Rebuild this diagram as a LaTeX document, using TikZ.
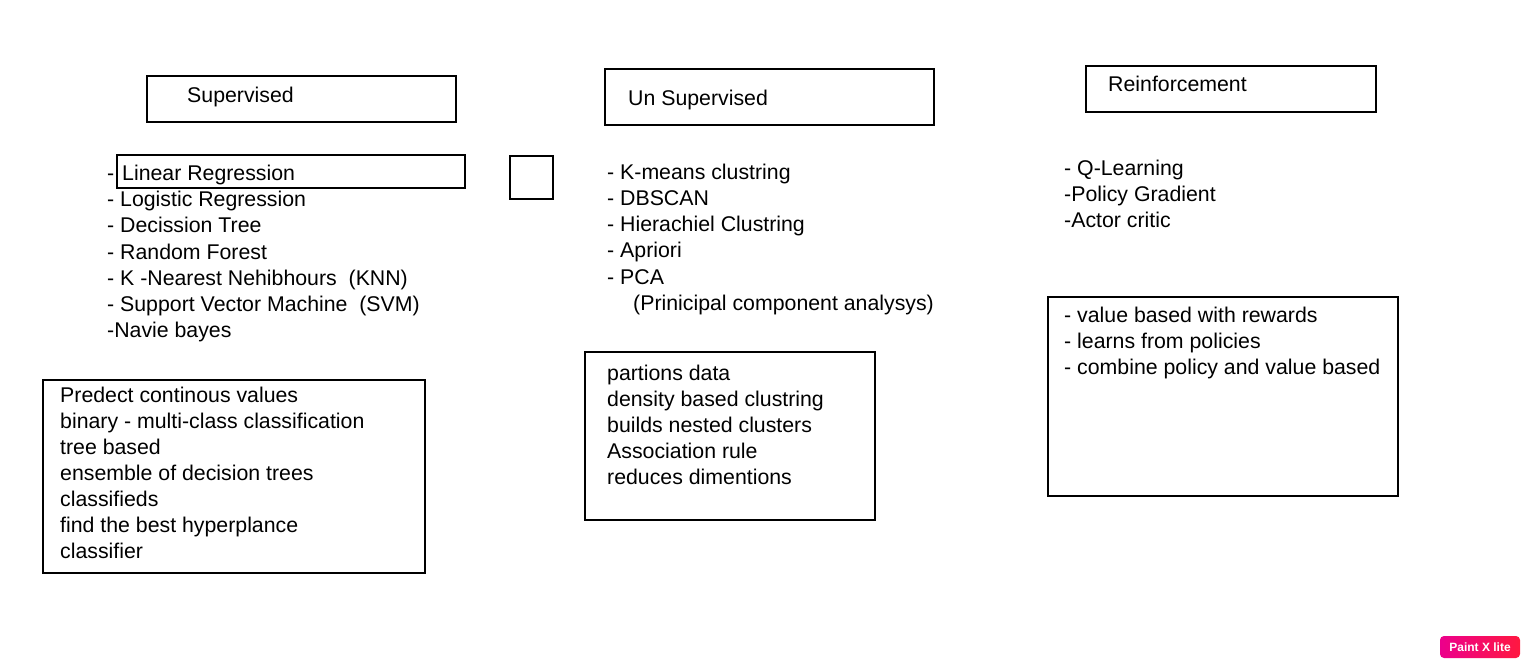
\documentclass[tikz,border=0pt]{standalone}
\usepackage{fontspec}
\setmainfont{Liberation Sans}
\usetikzlibrary{positioning}
\definecolor{badgeL}{RGB}{236,0,140}
\definecolor{badgeR}{RGB}{255,24,64}
\begin{document}
\begin{tikzpicture}[x=1pt,y=-1pt,
  frame/.style={draw=black,line width=1.6pt},
  txt/.style={anchor=base west,inner sep=0pt,font=\fontsize{21.3}{26}\selectfont}]
\useasboundingbox[fill=white] (0,0) rectangle (1530,668);
% heading boxes
\draw[frame] (147,76) rectangle (456,122);
\node[txt] (hsup) at (187,102.5) {Supervised};
\draw[frame] (605,69) rectangle (934,125);
\node[txt] (hun) at (628,106) {Un Supervised};
\draw[frame] (1086,66) rectangle (1376,112);
\node[txt] (hrl) at (1108,92) {Reinforcement};
% supervised list
\node[txt] (sl1) at (107,181) {-};
\node[txt] (slbox) at (122,181) {Linear Regression};
\foreach \t [count=\i from 2] in {{- Logistic Regression},{- Decission Tree},{- Random Forest},{- K -Nearest Nehibhours\ \ (KNN)},{- Support Vector Machine\ \ (SVM)},{-Navie bayes}}
  \node[txt] (sl\i) at (107,{181+26*(\i-1)}) {\t};
\draw[frame] (117,155) rectangle (465,188);
% small square
\draw[frame,line width=1.4pt] (510,156) rectangle (553,199);
% unsupervised list
\foreach \t [count=\i] in {{- K-means clustring},{- DBSCAN},{- Hierachiel Clustring},{- Apriori},{- PCA}}
  \node[txt] (ul\i) at (607,{180+26*(\i-1)}) {\t};
\node[txt] (ul6) at (633,310) {(Prinicipal component analysys)};
% reinforcement list
\foreach \t [count=\i] in {{- Q-Learning},{-Policy Gradient},{-Actor critic}}
  \node[txt] (rl\i) at (1064,{176+26*(\i-1)}) {\t};
% description boxes
\draw[frame] (43,380) rectangle (425,573);
\foreach \t [count=\i] in {{Predect continous values},{binary - multi-class classification},{tree based},{ensemble of decision trees},{classifieds},{find the best hyperplance},{classifier}}
  \node[txt] (sd\i) at (60,{402+26*(\i-1)}) {\t};
\draw[frame] (585,352) rectangle (875,520);
\foreach \t [count=\i] in {{partions data},{density based clustring},{builds nested clusters},{Association rule},{reduces dimentions}}
  \node[txt] (ud\i) at (607,{380+26*(\i-1)}) {\t};
\draw[frame] (1048,297) rectangle (1398,496);
\foreach \t [count=\i] in {{- value based with rewards},{- learns from policies},{- combine policy and value based}}
  \node[txt] (rd\i) at (1064,{322+26*(\i-1)}) {\t};
% badge
\shade[left color=badgeL,right color=badgeR,rounded corners=4pt] (1440,636) rectangle (1520,658);
\node[text=white,font=\bfseries\fontsize{12}{13}\selectfont,inner sep=0pt] (badge) at (1480,647) {Paint X lite};
\end{tikzpicture}
\end{document}
